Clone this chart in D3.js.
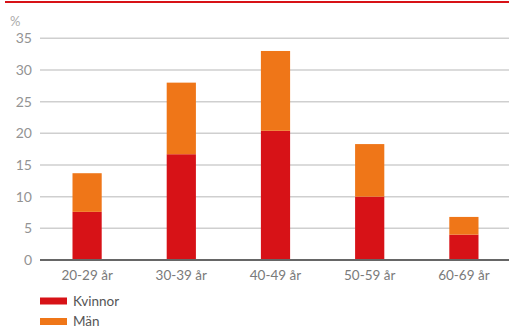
<!DOCTYPE html>
<html>
<head>
<meta charset="utf-8">
<script src="https://cdn.jsdelivr.net/npm/d3@7"></script>
<style>
  body { margin: 0; background: #fff; }
  svg { display: block; font-family: "Lato", "Open Sans", sans-serif; }
</style>
</head>
<body>
<svg width="509" height="329"></svg>
<script>
// data
var ageGroups = ["20-29 år", "30-39 år", "40-49 år", "50-59 år", "60-69 år"];
var kvinnor = [7.6, 16.7, 20.4, 10.0, 4.0];
var man = [6.1, 11.3, 12.6, 8.3, 2.8];
var seriesNames = ["Kvinnor", "Män"];
var yTicks = [0, 5, 10, 15, 20, 25, 30, 35];

var colors = ["#d71217", "#ef7618"];

var svg = d3.select("svg"),
    width = 509,
    height = 329;

var rows = ageGroups.map(function(g, i) {
  return { group: g, Kvinnor: kvinnor[i], "Män": man[i] };
});

var x = d3.scaleBand()
    .domain(ageGroups)
    .range([40, 511])
    .paddingInner(0.69)
    .paddingOuter(0.345);

var y = d3.scaleLinear()
    .domain([0, 35])
    .range([260, 38.3]);

// top red rule
svg.append("line")
    .attr("x1", 5).attr("x2", width)
    .attr("y1", 2).attr("y2", 2)
    .style("stroke", "#d71217")
    .style("stroke-width", 2);

// gridlines
svg.selectAll(".grid")
    .data(yTicks.filter(function(d) { return d > 0; }))
    .enter().append("line")
    .attr("class", "grid")
    .attr("x1", 40).attr("x2", width)
    .attr("y1", function(d) { return y(d); })
    .attr("y2", function(d) { return y(d); })
    .style("stroke", "#cfcfcf")
    .style("stroke-width", 1.5);

// y labels
svg.selectAll(".ylab")
    .data(yTicks)
    .enter().append("text")
    .attr("class", "ylab")
    .attr("x", 32)
    .attr("y", function(d) { return y(d); })
    .attr("dy", "0.36em")
    .attr("text-anchor", "end")
    .style("font-size", "14px")
    .style("fill", "#939393")
    .text(function(d) { return d; });

svg.append("text")
    .attr("x", 10).attr("y", 26)
    .style("font-size", "13px")
    .style("fill", "#ababab")
    .text("%");

// stacked bars
var stack = d3.stack().keys(seriesNames);
var layers = stack(rows);

svg.selectAll(".layer")
    .data(layers)
    .enter().append("g")
    .attr("class", "layer")
    .style("fill", function(d, i) { return colors[i]; })
    .selectAll("rect")
    .data(function(d) { return d; })
    .enter().append("rect")
    .attr("x", function(d) { return x(d.data.group); })
    .attr("width", x.bandwidth())
    .attr("y", function(d) { return y(d[1]); })
    .attr("height", function(d) { return y(d[0]) - y(d[1]); });

// baseline
svg.append("line")
    .attr("x1", 40).attr("x2", width)
    .attr("y1", 260).attr("y2", 260)
    .style("stroke", "#666")
    .style("stroke-width", 2);

// x labels
svg.selectAll(".xlab")
    .data(ageGroups)
    .enter().append("text")
    .attr("class", "xlab")
    .attr("x", function(d) { return x(d) + x.bandwidth() / 2; })
    .attr("y", 275)
    .attr("dy", "0.36em")
    .attr("text-anchor", "middle")
    .style("font-size", "13.5px")
    .style("fill", "#7a7a7a")
    .text(function(d) { return d; });

// legend
var legend = svg.selectAll(".legend")
    .data(seriesNames)
    .enter().append("g")
    .attr("class", "legend")
    .attr("transform", function(d, i) { return "translate(40," + (301 + i * 20.5) + ")"; });

legend.append("rect")
    .attr("x", 0).attr("y", -3.5)
    .attr("width", 27).attr("height", 7)
    .style("fill", function(d, i) { return colors[i]; });

legend.append("text")
    .attr("x", 33).attr("y", 0)
    .attr("dy", "0.36em")
    .style("font-size", "13.5px")
    .style("fill", "#555")
    .text(function(d) { return d; });
</script>
</body>
</html>
